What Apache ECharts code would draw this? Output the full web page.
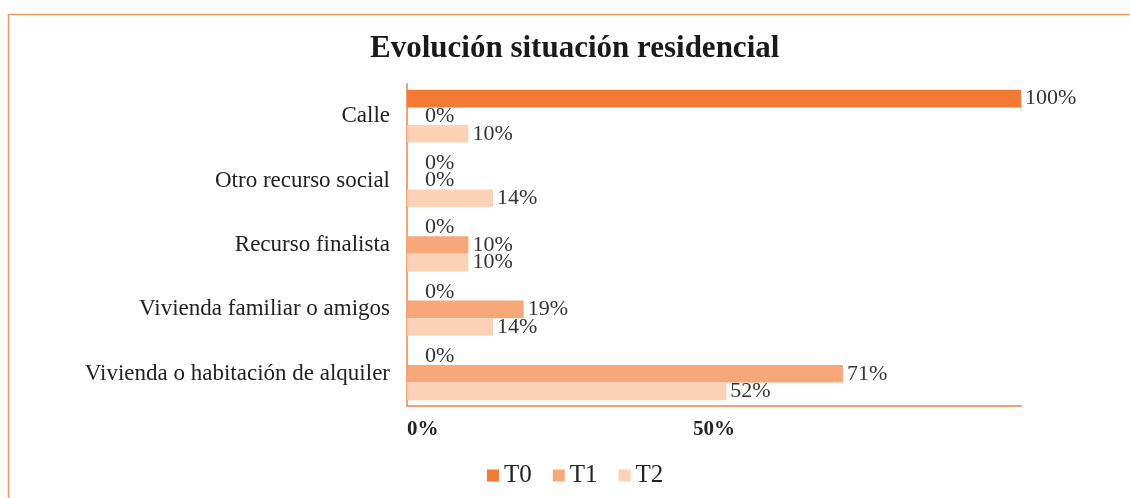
<!DOCTYPE html>
<html>
<head>
<meta charset="utf-8">
<script src="https://cdn.jsdelivr.net/npm/echarts@6/dist/echarts.min.js"></script>
<style>
  html, body { margin: 0; padding: 0; background: #fff; }
  #chart { width: 1130px; height: 498px; }
</style>
</head>
<body>
<div id="chart"></div>
<script>
const categories = [
  'Calle',
  'Otro recurso social',
  'Recurso finalista',
  'Vivienda familiar o amigos',
  'Vivienda o habitación de alquiler'
]
const seriesNames = ['T0', 'T1', 'T2']
const t0 = [100, 0, 0, 0, 0]
const t1 = [0, 0, 10, 19, 71]
const t2 = [10, 14, 10, 14, 52]

const colors = ['#F37A33', '#F6A878', '#FBD2B5']
const serif = '"Liberation Serif", "DejaVu Serif", serif'

const myChart = echarts.init(document.getElementById('chart'))

// zero values: excel puts the label a bit away from the axis
const toData = (arr) => arr.map(v => v === 0 ? { value: v, label: { offset: [14, 0] } } : v)

const option = {
  animation: false,
  title: {
    text: 'Evolución situación residencial',
    left: 365,
    top: 28,
    textStyle: { fontFamily: serif, fontSize: 31, fontWeight: 'bold', color: '#1a1a1a' }
  },
  legend: {
    top: 458,
    left: 482,
    icon: 'rect',
    itemWidth: 12,
    itemHeight: 12,
    itemGap: 21,
    textStyle: { fontFamily: serif, fontSize: 25, color: '#222' },
    data: seriesNames
  },
  grid: {
    left: 407,
    right: 109,
    top: 84,
    bottom: 92
  },
  xAxis: {
    type: 'value',
    min: 0,
    max: 100,
    interval: 50,
    splitLine: { show: false },
    axisLine: { show: true, lineStyle: { color: '#F4A074', width: 2 } },
    axisTick: { show: false },
    axisLabel: {
      showMaxLabel: false,
      alignMinLabel: 'left',
      formatter: '{value}%',
      margin: 13,
      fontFamily: serif,
      fontSize: 21,
      fontWeight: 'bold',
      color: '#222'
    }
  },
  yAxis: {
    type: 'category',
    inverse: true,
    data: categories,
    axisLine: { show: true, lineStyle: { color: '#F4A074', width: 2 } },
    axisTick: { show: false },
    axisLabel: {
      margin: 17,
      padding: [5, 0, 0, 0],
      fontFamily: serif,
      fontSize: 23,
      color: '#222'
    }
  },
  series: [t0, t1, t2].map((arr, i) => ({
    name: seriesNames[i],
    type: 'bar',
    data: toData(arr),
    barGap: '0%',
    barCategoryGap: '18%',
    itemStyle: { color: colors[i] },
    label: {
      show: true,
      position: 'right',
      distance: 4,
      formatter: '{c}%',
      fontFamily: serif,
      fontSize: 22,
      color: '#333'
    }
  })),
  graphic: [{
    type: 'rect',
    shape: { x: 8.5, y: 14.5, width: 1200, height: 600 },
    style: { fill: null, stroke: '#F39A62', lineWidth: 1.5 },
    silent: true
  }]
}
myChart.setOption(option)
</script>
</body>
</html>
